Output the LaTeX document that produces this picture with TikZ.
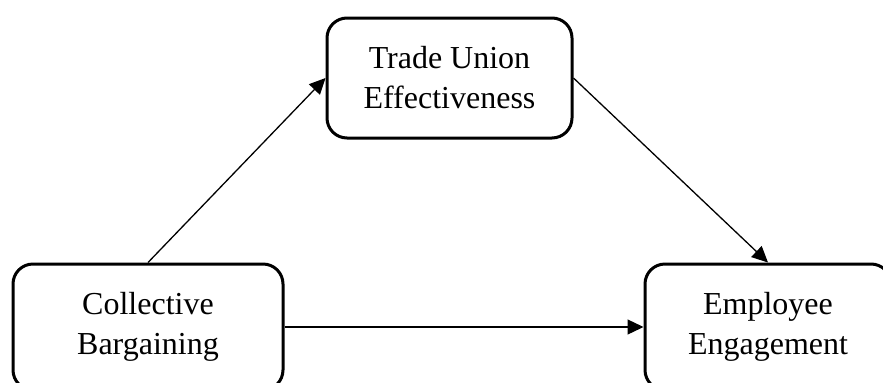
\documentclass[tikz,border=0pt]{standalone}
\usepackage{fontspec}
\setmainfont{Liberation Serif}
\usetikzlibrary{arrows.meta}

\begin{document}
\begin{tikzpicture}[x=0.5pt, y=0.5pt,
  var/.style={draw, line width=1.5pt, rounded corners=10pt, align=center,
    minimum height=60pt, inner sep=0pt, font=\fontsize{16}{20}\selectfont},
  path/.style={line width=0.65pt, -{Triangle[length=8pt,width=7.5pt]}}]
\useasboundingbox (0,0) rectangle (883,382);

\node[var, minimum width=122.5pt] (union) at (449.5,304) {Trade Union\\Effectiveness};
\node[var, minimum width=135pt, minimum height=63pt] (barg) at (148,55) {Collective\\Bargaining};
\node[var, minimum width=123pt, minimum height=63pt] (engage) at (768,55) {Employee\\Engagement};

\draw[path] (barg.north) -- (union.west);
\draw[path] (union.east) -- (engage.north);
\draw[path] (barg.east) -- (engage.west);
\end{tikzpicture}
\end{document}
